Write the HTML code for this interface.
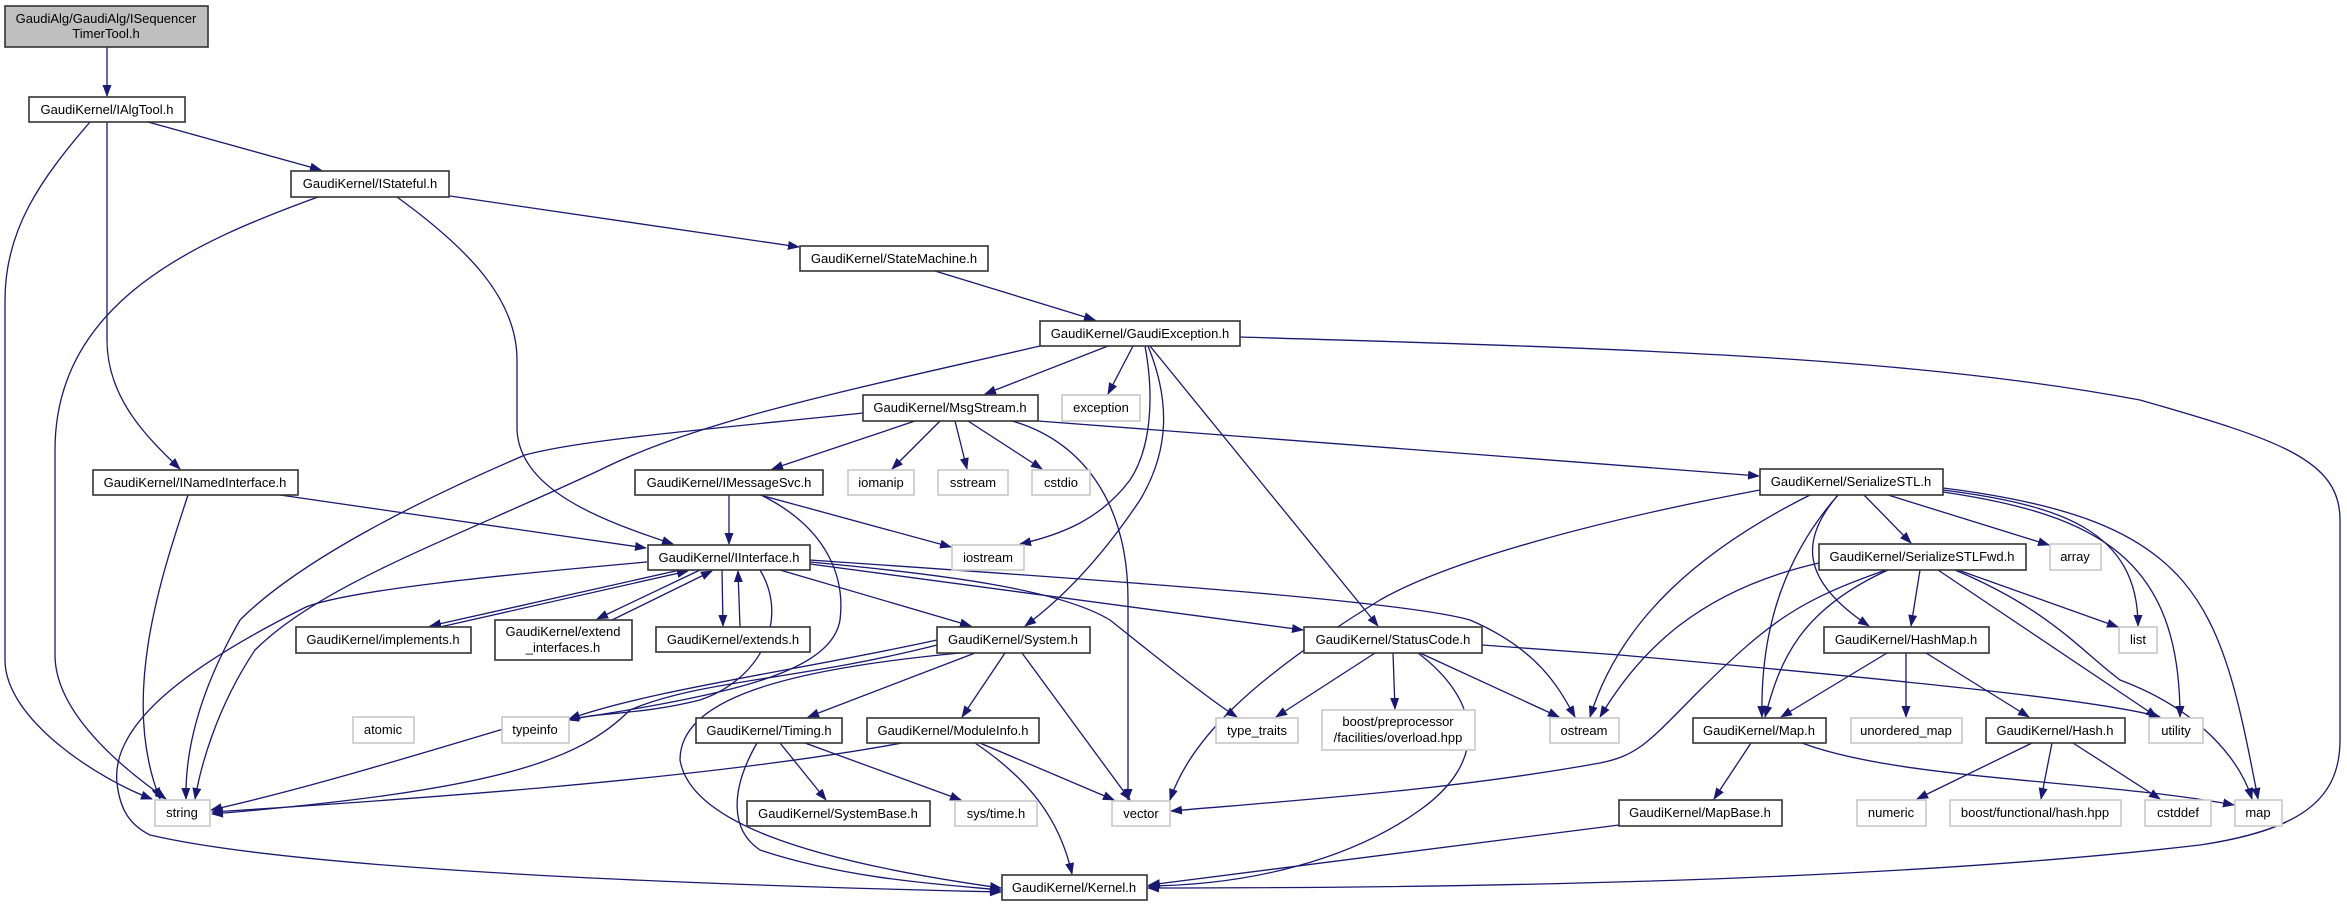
<!DOCTYPE html>
<html><head><meta charset="utf-8"><style>
html,body{margin:0;padding:0;background:#fff;}
svg{display:block;}
text{font-family:"Liberation Sans",sans-serif;font-size:13px;fill:#000;text-anchor:middle;}
.n{fill:#fff;stroke:#333;stroke-width:1.6;}
.g{fill:#fff;stroke:#c8c8c8;stroke-width:1.6;}
.e{fill:none;stroke:#191970;stroke-width:1.3;marker-end:url(#a);}
</style></head><body>
<svg width="2347" height="907" viewBox="0 0 2347 907" xmlns="http://www.w3.org/2000/svg">
<defs><marker id="a" markerWidth="12" markerHeight="9" refX="11" refY="4.5" orient="auto" markerUnits="userSpaceOnUse"><path d="M0,0 L12,4.5 L0,9 z" fill="#191970"/></marker></defs>
<g>
<path class="e" d="M107,47 L107,96"/>
<path class="e" d="M148,122 L321,170"/>
<path class="e" d="M107,122 L107,340 C107,400 150,440 180,469"/>
<path class="e" d="M90,122 C40,180 5,230 5,300 L5,660 C5,720 100,780 152,799"/>
<path class="e" d="M450,196 L799,247"/>
<path class="e" d="M318,197 C200,240 55,300 55,450 L55,655 C55,720 140,780 166,799"/>
<path class="e" d="M397,197 C470,250 517,300 517,360 L517,430 C520,490 600,520 673,544"/>
<path class="e" d="M935,271 L1095,320"/>
<path class="e" d="M1040,346 C850,390 700,420 600,470 C450,540 320,585 255,650 C215,710 200,770 195,799"/>
<path class="e" d="M1108,346 L985,394"/>
<path class="e" d="M1133,346 L1108,394"/>
<path class="e" d="M1145,346 C1155,400 1150,450 1130,480 C1100,520 1060,535 1020,544"/>
<path class="e" d="M1148,346 C1170,400 1170,450 1140,500 C1100,560 1060,600 1025,626"/>
<path class="e" d="M1150,346 L1378,626"/>
<path class="e" d="M1240,337 C1600,348 1900,355 2140,400 C2280,440 2340,460 2340,520 L2340,740 C2340,800 2300,830 2200,845 C1900,880 1500,888 1148,888"/>
<path class="e" d="M863,413 C700,430 580,440 525,455 C420,500 300,560 240,620 C200,690 185,750 186,799"/>
<path class="e" d="M915,421 L772,469"/>
<path class="e" d="M940,421 L892,469"/>
<path class="e" d="M955,421 L967,469"/>
<path class="e" d="M968,421 L1042,469"/>
<path class="e" d="M1012,421 C1080,440 1128,500 1128,600 L1128,800"/>
<path class="e" d="M1038,421 L1759,476"/>
<path class="e" d="M729,495 L729,544"/>
<path class="e" d="M760,495 L951,547"/>
<path class="e" d="M763,496 C830,530 845,580 840,620 C830,680 700,700 500,730 C400,760 300,790 211,810"/>
<path class="e" d="M280,495 L646,548"/>
<path class="e" d="M188,495 C160,580 120,700 160,799"/>
<path class="e" d="M647,562 C500,575 350,590 306,607 C200,660 110,720 117,783 C120,810 130,825 150,835 C300,870 700,885 1001,892"/>
<path class="e" d="M680,570 L430,626"/>
<path class="e" d="M440,627 L688,571"/>
<path class="e" d="M700,570 L597,619"/>
<path class="e" d="M612,620 L712,571"/>
<path class="e" d="M722,570 L723,626"/>
<path class="e" d="M740,627 L738,571"/>
<path class="e" d="M780,570 L971,626"/>
<path class="e" d="M810,564 L1303,630"/>
<path class="e" d="M810,560 C1100,580 1400,600 1470,620 C1540,650 1560,690 1575,717"/>
<path class="e" d="M810,562 C950,575 1060,590 1110,620 C1160,660 1210,700 1237,717"/>
<path class="e" d="M760,570 C790,620 760,680 700,700 C640,715 600,712 568,720"/>
<path class="e" d="M937,640 C800,670 650,690 569,719"/>
<path class="e" d="M937,645 C800,680 700,680 630,710 C580,760 500,790 212,814"/>
<path class="e" d="M975,653 L808,717"/>
<path class="e" d="M1005,653 L962,717"/>
<path class="e" d="M1022,653 L1130,800"/>
<path class="e" d="M960,653 C780,670 680,700 680,760 C690,820 800,860 1001,888"/>
<path class="e" d="M780,743 L826,800"/>
<path class="e" d="M805,743 L961,800"/>
<path class="e" d="M757,743 C730,790 730,830 760,850 C850,880 950,885 1001,890"/>
<path class="e" d="M902,743 C700,780 400,800 212,812"/>
<path class="e" d="M980,743 L1114,800"/>
<path class="e" d="M975,743 C1030,780 1060,820 1072,874"/>
<path class="e" d="M1375,653 L1276,717"/>
<path class="e" d="M1393,653 L1395,709"/>
<path class="e" d="M1420,653 L1559,717"/>
<path class="e" d="M1418,653 C1480,700 1490,760 1420,810 C1350,860 1250,885 1148,886"/>
<path class="e" d="M1482,645 L1620,655 C1900,680 2100,700 2160,717"/>
<path class="e" d="M1760,490 C1600,520 1450,560 1380,600 C1250,680 1190,740 1170,800"/>
<path class="e" d="M1810,495 C1700,550 1620,620 1590,717"/>
<path class="e" d="M1864,495 L1911,543"/>
<path class="e" d="M1838,495 C1800,540 1800,580 1869,626"/>
<path class="e" d="M1838,495 C1790,550 1760,620 1762,717"/>
<path class="e" d="M1888,495 L2049,545"/>
<path class="e" d="M1943,490 C2060,505 2138,530 2138,626"/>
<path class="e" d="M1943,492 C2100,515 2180,560 2180,717"/>
<path class="e" d="M1943,488 C2200,520 2220,600 2258,799"/>
<path class="e" d="M1819,563 C1700,590 1640,650 1600,717"/>
<path class="e" d="M1886,570 C1800,600 1771,620 1700,690 C1650,740 1640,755 1600,763 C1450,790 1300,800 1171,811"/>
<path class="e" d="M1888,570 C1800,610 1780,660 1765,717"/>
<path class="e" d="M1920,570 L1911,626"/>
<path class="e" d="M1958,570 L2118,627"/>
<path class="e" d="M1938,570 L2157,717"/>
<path class="e" d="M1955,570 C2050,610 2080,650 2120,680 C2200,710 2240,760 2252,799"/>
<path class="e" d="M1887,653 L1781,717"/>
<path class="e" d="M1906,653 L1906,717"/>
<path class="e" d="M1926,653 L2029,717"/>
<path class="e" d="M1751,743 L1714,799"/>
<path class="e" d="M1802,743 C1900,780 2100,780 2234,805"/>
<path class="e" d="M2032,743 L1917,799"/>
<path class="e" d="M2052,743 L2041,799"/>
<path class="e" d="M2073,743 L2160,799"/>
<path class="e" d="M1619,825 L1149,885"/>
</g>
<g>
<rect x="5" y="6" width="203" height="41" fill="#bfbfbf" stroke="#333" stroke-width="1.6"/>
<text x="106" y="23">GaudiAlg/GaudiAlg/ISequencer</text><text x="106" y="38">TimerTool.h</text>
<rect class="n" x="29" y="97" width="156" height="25"/><text x="107" y="114">GaudiKernel/IAlgTool.h</text>
<rect class="n" x="291" y="171" width="158" height="26"/><text x="370" y="188">GaudiKernel/IStateful.h</text>
<rect class="n" x="800" y="246" width="188" height="25"/><text x="894" y="263">GaudiKernel/StateMachine.h</text>
<rect class="n" x="1040" y="321" width="200" height="25"/><text x="1140" y="338">GaudiKernel/GaudiException.h</text>
<rect class="n" x="863" y="395" width="175" height="26"/><text x="950" y="412">GaudiKernel/MsgStream.h</text>
<rect class="g" x="1062" y="395" width="78" height="26"/><text x="1101" y="412">exception</text>
<rect class="n" x="93" y="470" width="205" height="25"/><text x="195" y="487">GaudiKernel/INamedInterface.h</text>
<rect class="n" x="635" y="470" width="188" height="25"/><text x="729" y="487">GaudiKernel/IMessageSvc.h</text>
<rect class="g" x="848" y="470" width="66" height="25"/><text x="881" y="487">iomanip</text>
<rect class="g" x="938" y="470" width="70" height="25"/><text x="973" y="487">sstream</text>
<rect class="g" x="1032" y="470" width="58" height="25"/><text x="1061" y="487">cstdio</text>
<rect class="n" x="1760" y="469" width="183" height="26"/><text x="1851" y="486">GaudiKernel/SerializeSTL.h</text>
<rect class="n" x="648" y="545" width="162" height="25"/><text x="729" y="562">GaudiKernel/IInterface.h</text>
<rect class="g" x="952" y="545" width="72" height="25"/><text x="988" y="562">iostream</text>
<rect class="n" x="1819" y="544" width="207" height="26"/><text x="1922" y="561">GaudiKernel/SerializeSTLFwd.h</text>
<rect class="g" x="2050" y="544" width="51" height="26"/><text x="2075" y="561">array</text>
<rect class="n" x="296" y="627" width="175" height="26"/><text x="383" y="644">GaudiKernel/implements.h</text>
<rect class="n" x="495" y="620" width="137" height="40"/><text x="563" y="636">GaudiKernel/extend</text><text x="563" y="652">_interfaces.h</text>
<rect class="n" x="656" y="627" width="154" height="25"/><text x="733" y="644">GaudiKernel/extends.h</text>
<rect class="n" x="937" y="627" width="153" height="26"/><text x="1013" y="644">GaudiKernel/System.h</text>
<rect class="n" x="1304" y="627" width="178" height="26"/><text x="1393" y="644">GaudiKernel/StatusCode.h</text>
<rect class="n" x="1824" y="627" width="165" height="26"/><text x="1906" y="644">GaudiKernel/HashMap.h</text>
<rect class="g" x="2119" y="627" width="38" height="26"/><text x="2138" y="644">list</text>
<rect class="g" x="353" y="717" width="61" height="26"/><text x="383" y="734">atomic</text>
<rect class="g" x="502" y="717" width="67" height="26"/><text x="535" y="734">typeinfo</text>
<rect class="n" x="696" y="718" width="146" height="25"/><text x="769" y="735">GaudiKernel/Timing.h</text>
<rect class="n" x="867" y="718" width="172" height="25"/><text x="953" y="735">GaudiKernel/ModuleInfo.h</text>
<rect class="g" x="1216" y="718" width="82" height="25"/><text x="1257" y="735">type_traits</text>
<rect class="g" x="1322" y="710" width="153" height="40"/><text x="1398" y="726">boost/preprocessor</text><text x="1398" y="742">/facilities/overload.hpp</text>
<rect class="g" x="1550" y="718" width="69" height="25"/><text x="1584" y="735">ostream</text>
<rect class="n" x="1693" y="718" width="133" height="25"/><text x="1759" y="735">GaudiKernel/Map.h</text>
<rect class="g" x="1851" y="718" width="111" height="25"/><text x="1906" y="735">unordered_map</text>
<rect class="n" x="1986" y="718" width="139" height="25"/><text x="2055" y="735">GaudiKernel/Hash.h</text>
<rect class="g" x="2149" y="718" width="54" height="25"/><text x="2176" y="735">utility</text>
<rect class="g" x="155" y="800" width="55" height="26"/><text x="182" y="817">string</text>
<rect class="n" x="747" y="801" width="183" height="25"/><text x="838" y="818">GaudiKernel/SystemBase.h</text>
<rect class="g" x="955" y="801" width="82" height="25"/><text x="996" y="818">sys/time.h</text>
<rect class="g" x="1112" y="801" width="58" height="25"/><text x="1141" y="818">vector</text>
<rect class="n" x="1619" y="800" width="163" height="26"/><text x="1700" y="817">GaudiKernel/MapBase.h</text>
<rect class="g" x="1857" y="800" width="69" height="26"/><text x="1891" y="817">numeric</text>
<rect class="g" x="1950" y="800" width="171" height="26"/><text x="2035" y="817">boost/functional/hash.hpp</text>
<rect class="g" x="2145" y="800" width="66" height="26"/><text x="2178" y="817">cstddef</text>
<rect class="g" x="2235" y="800" width="47" height="26"/><text x="2258" y="817">map</text>
<rect class="n" x="1002" y="875" width="145" height="25"/><text x="1074" y="892">GaudiKernel/Kernel.h</text>
</g>
</svg>
</body></html>
